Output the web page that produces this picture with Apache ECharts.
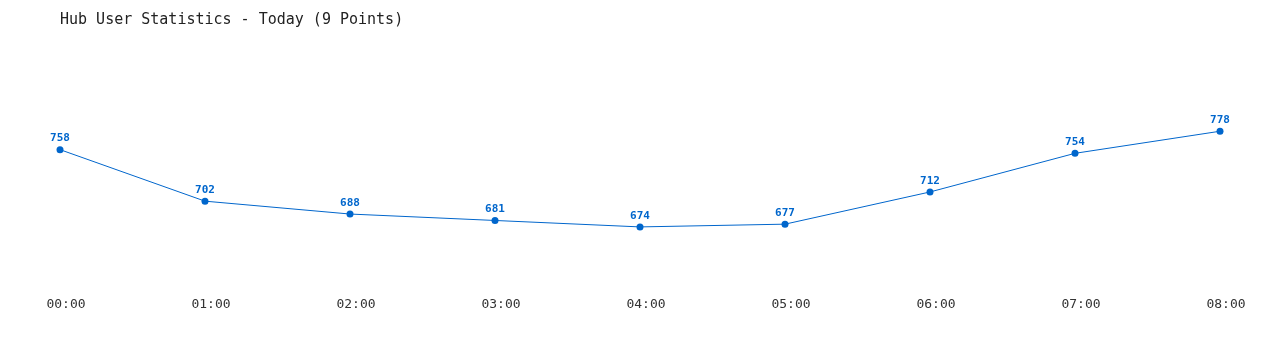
<!DOCTYPE html>
<html>
<head>
<meta charset="utf-8">
<script src="https://cdn.jsdelivr.net/npm/echarts@6/dist/echarts.min.js"></script>
<style>html,body{margin:0;padding:0;background:#fff;}#c{width:1280px;height:350px;}</style>
</head>
<body>
<div id="c"></div>
<script>
const categories = ['00:00','01:00','02:00','03:00','04:00','05:00','06:00','07:00','08:00'];
const users = [758, 702, 688, 681, 674, 677, 712, 754, 778];
const titleText = 'Hub User Statistics - Today (9 Points)';

const chart = echarts.init(document.getElementById('c'));
chart.setOption({
  animation: false,
  title: {
    text: titleText,
    left: 55, top: 8,
    textStyle: { fontFamily: 'DejaVu Sans Mono', fontSize: 15, fontWeight: 'normal', color: '#222' }
  },
  grid: { left: 60, right: 60, top: 65, bottom: 55 },
  xAxis: {
    type: 'category',
    data: categories,
    boundaryGap: false,
    axisLine: { show: false },
    axisTick: { show: false },
    axisLabel: { margin: 3, padding: [0, 0, 0, 12], fontFamily: 'DejaVu Sans Mono', fontSize: 13, color: '#333' }
  },
  yAxis: {
    type: 'value',
    min: 600, max: 850,
    show: false,
    splitLine: { show: false }
  },
  series: [{
    type: 'line',
    data: users,
    symbol: 'circle',
    symbolSize: 7,
    lineStyle: { color: '#0066cc', width: 1 },
    itemStyle: { color: '#0066cc' },
    label: {
      show: true, position: 'top', distance: 2,
      fontFamily: 'DejaVu Sans Mono', fontSize: 11, fontWeight: 'bold', color: '#0066cc'
    }
  }]
});
</script>
</body>
</html>
